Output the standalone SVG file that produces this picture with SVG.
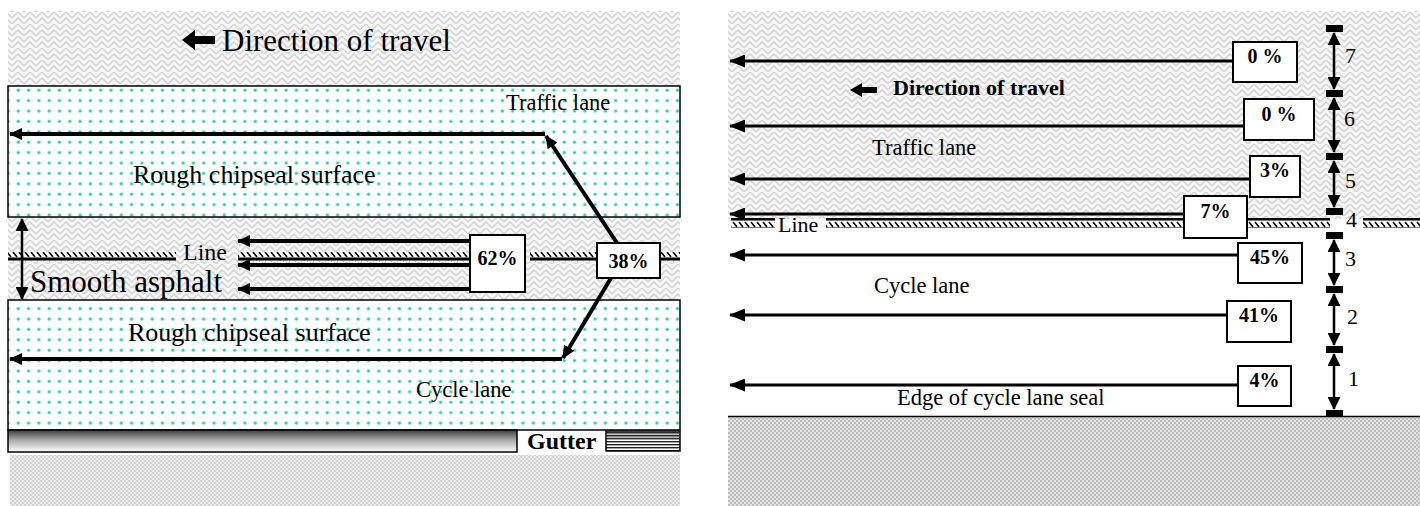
<svg xmlns="http://www.w3.org/2000/svg" width="1420" height="506" viewBox="0 0 1420 506">
<style>
.t{font-family:"Liberation Serif","Times New Roman",serif;fill:#000}
.b{font-weight:bold}
.box{fill:#fff;stroke:#000;stroke-width:2}
.lane{fill:url(#dots);stroke:#000;stroke-width:1.5}
.aL{stroke:#000;stroke-width:4;fill:none;marker-end:url(#ahL)}
.aR{stroke:#000;stroke-width:3;fill:none;marker-end:url(#ahR)}
.dv{stroke:#000;stroke-width:2.5;fill:none;marker-start:url(#ahV);marker-end:url(#ahV)}
.mk{fill:#000}
.strip{fill:url(#hatch)}
</style>
<defs>
<pattern id="herr" patternUnits="userSpaceOnUse" width="12" height="12">
<rect width="12" height="12" fill="#f7f7f7"/>
<path d="M0,6 L6,0 L12,6 M0,12 L6,6 L12,12" stroke="#d6d6d6" stroke-width="1.6" fill="none"/>
</pattern>
<pattern id="dots" patternUnits="userSpaceOnUse" width="10.3" height="10.4" x="3" y="2">
<rect width="10.3" height="10.4" fill="#fff"/>
<circle cx="5" cy="5" r="2" fill="#b0eedd"/>
<circle cx="5" cy="5" r="1.3" fill="#1fcf9f"/>
</pattern>
<pattern id="stipL" patternUnits="userSpaceOnUse" width="4" height="4">
<rect width="4" height="4" fill="#ececec"/>
<circle cx="1" cy="1" r="0.9" fill="#c6c6c6"/>
<circle cx="3" cy="3" r="0.9" fill="#c6c6c6"/>
</pattern>
<pattern id="stipR" patternUnits="userSpaceOnUse" width="4" height="4">
<rect width="4" height="4" fill="#e4e4e4"/>
<circle cx="1" cy="1" r="1" fill="#adadad"/>
<circle cx="3" cy="3" r="1" fill="#adadad"/>
</pattern>
<pattern id="hatch" patternUnits="userSpaceOnUse" width="6" height="10">
<rect width="6" height="10" fill="#fff"/>
<path d="M1,2 L5,7" stroke="#000" stroke-width="1.6"/>
<rect y="7.5" width="6" height="2.5" fill="#000"/>
<rect y="0" width="6" height="0.8" fill="#555"/>
</pattern>
<linearGradient id="gut" x1="0" y1="0" x2="0" y2="1">
<stop offset="0" stop-color="#3c3c3c"/>
<stop offset="0.45" stop-color="#a8a8a8"/>
<stop offset="1" stop-color="#ffffff"/>
</linearGradient>
<pattern id="gutl" patternUnits="userSpaceOnUse" width="4" height="3">
<rect width="4" height="3" fill="#fff"/>
<rect width="4" height="1.4" fill="#222"/>
</pattern>
<marker id="ahL" markerUnits="userSpaceOnUse" viewBox="0 0 13 12" refX="12" refY="6" markerWidth="13" markerHeight="12" orient="auto">
<path d="M0,0 L13,6 L0,12 z" fill="#000"/>
</marker>
<marker id="ahR" markerUnits="userSpaceOnUse" viewBox="0 0 16 13" refX="15" refY="6.5" markerWidth="16" markerHeight="13" orient="auto">
<path d="M0,0 L16,6.5 L0,13 z" fill="#000"/>
</marker>
<marker id="ahV" markerUnits="userSpaceOnUse" viewBox="0 0 13 13" refX="12" refY="6.5" markerWidth="13" markerHeight="13" orient="auto-start-reverse">
<path d="M0,0 L13,6.5 L0,13 z" fill="#000"/>
</marker>
</defs>

<!-- LEFT PANEL backgrounds -->
<g id="left-road">
<rect x="8" y="11" width="672" height="290" fill="url(#herr)"/>
<rect x="10" y="455" width="670" height="51" fill="url(#stipL)"/>
</g>
<g id="left-traffic-lane">
<rect class="lane" x="8" y="86" width="672" height="131"/>
<text class="t" x="506" y="110" font-size="22.5">Traffic lane</text>
<text class="t" x="133" y="183" font-size="26">Rough chipseal surface</text>
</g>
<g id="left-cycle-lane">
<rect class="lane" x="8" y="300" width="672" height="130"/>
<text class="t" x="128" y="341" font-size="26">Rough chipseal surface</text>
<text class="t" x="416" y="397" font-size="22.5">Cycle lane</text>
</g>
<g id="left-line">
<rect class="strip" x="8" y="252" width="168" height="10"/>
<rect class="strip" x="238" y="252" width="234" height="10"/>
<rect class="strip" x="530" y="252" width="68" height="10"/>
<rect class="strip" x="660" y="252" width="20" height="10"/>
<text class="t" x="183" y="260" font-size="24">Line</text>
</g>
<g id="left-smooth">
<text class="t" x="30" y="292" font-size="31">Smooth asphalt</text>
</g>
<g id="left-gutter">
<rect x="8" y="430" width="509" height="22" fill="url(#gut)" stroke="#000" stroke-width="1.5"/>
<text class="t b" x="527" y="449" font-size="24">Gutter</text>
<rect x="606" y="431" width="74" height="20" fill="url(#gutl)" stroke="#000" stroke-width="1.5"/>
<rect x="606" y="431" width="74" height="8" fill="#444" opacity="0.35"/>
</g>
<g id="left-title">
<path d="M182,40 L195,30 L195,36 L215,36 L215,44 L195,44 L195,50 z" fill="#000"/>
<text class="t" x="222" y="51" font-size="31">Direction of travel</text>
</g>

<!-- LEFT connectors -->
<g id="left-connectors">
<line class="aL" x1="617" y1="243" x2="546" y2="136"/>
<line class="aL" x1="545" y1="134" x2="10" y2="134"/>
<line class="aL" x1="611" y1="278" x2="563" y2="358"/>
<line class="aL" x1="562" y1="359" x2="10" y2="359"/>
<line class="aL" x1="470" y1="241" x2="238" y2="241"/>
<line class="aL" x1="470" y1="265" x2="238" y2="265"/>
<line class="aL" x1="470" y1="289" x2="238" y2="289"/>
<line class="dv" x1="22" y1="219" x2="22" y2="299" stroke-width="3"/>
</g>
<g id="box-62">
<rect class="box" x="470" y="235" width="55" height="57"/>
<text class="t b" x="497.5" y="265" font-size="20" text-anchor="middle">62%</text>
</g>
<g id="box-38">
<rect class="box" x="597" y="243" width="63" height="35"/>
<text class="t b" x="628.5" y="268" font-size="20" text-anchor="middle">38%</text>
</g>

<!-- RIGHT PANEL -->
<g id="right-road">
<rect x="728" y="11" width="692" height="208" fill="url(#herr)"/>
<rect x="728" y="228" width="692" height="188" fill="#fff"/>
<rect x="728" y="417" width="692" height="89" fill="url(#stipR)"/>
<line x1="728" y1="416.5" x2="1420" y2="416.5" stroke="#000" stroke-width="1.5"/>
</g>
<g id="right-line">
<rect class="strip" x="731" y="218" width="44" height="10"/>
<rect class="strip" x="826" y="218" width="504" height="10"/>
<rect class="strip" x="1363" y="218" width="57" height="10"/>
<text class="t" x="778" y="232" font-size="22">Line</text>
</g>
<g id="right-labels">
<path d="M850,90 L862,83 L862,87 L877,87 L877,93 L862,93 L862,97 z" fill="#000"/>
<text class="t b" x="893" y="95" font-size="22">Direction of travel</text>
<text class="t" x="872" y="155" font-size="22.5">Traffic lane</text>
<text class="t" x="874" y="293" font-size="22.5">Cycle lane</text>
<text class="t" x="897" y="405" font-size="22.5">Edge of cycle lane seal</text>
</g>
<g id="right-connectors">
<line class="aR" x1="1233" y1="61" x2="730" y2="61"/>
<line class="aR" x1="1244" y1="126" x2="730" y2="126"/>
<line class="aR" x1="1250" y1="179" x2="730" y2="179"/>
<line class="aR" x1="1184" y1="214" x2="730" y2="214"/>
<line class="aR" x1="1238" y1="255" x2="730" y2="255"/>
<line class="aR" x1="1227" y1="315" x2="730" y2="315"/>
<line class="aR" x1="1238" y1="385" x2="730" y2="385"/>
</g>
<g id="box-r7">
<rect class="box" x="1233" y="42" width="64" height="40"/>
<text class="t b" x="1265" y="63" font-size="20" text-anchor="middle">0 %</text>
</g>
<g id="box-r6">
<rect class="box" x="1244" y="99" width="70" height="41"/>
<text class="t b" x="1279" y="121" font-size="20" text-anchor="middle">0 %</text>
</g>
<g id="box-r5">
<rect class="box" x="1250" y="156" width="50" height="41"/>
<text class="t b" x="1275" y="177" font-size="20" text-anchor="middle">3%</text>
</g>
<g id="box-r4">
<rect class="box" x="1184" y="196" width="63" height="42"/>
<text class="t b" x="1215.5" y="218" font-size="20" text-anchor="middle">7%</text>
</g>
<g id="box-r3">
<rect class="box" x="1238" y="243" width="64" height="40"/>
<text class="t b" x="1270" y="264" font-size="20" text-anchor="middle">45%</text>
</g>
<g id="box-r2">
<rect class="box" x="1227" y="301" width="64" height="41"/>
<text class="t b" x="1259" y="322" font-size="20" text-anchor="middle">41%</text>
</g>
<g id="box-r1">
<rect class="box" x="1238" y="366" width="53" height="40"/>
<text class="t b" x="1264.5" y="387" font-size="20" text-anchor="middle">4%</text>
</g>
<g id="scale">
<rect class="mk" x="1326" y="25" width="17" height="7"/>
<rect class="mk" x="1326" y="90" width="17" height="7"/>
<rect class="mk" x="1326" y="153" width="17" height="7"/>
<rect class="mk" x="1326" y="208" width="17" height="7"/>
<rect class="mk" x="1326" y="232" width="17" height="7"/>
<rect class="mk" x="1326" y="286" width="17" height="7"/>
<rect class="mk" x="1326" y="346" width="17" height="7"/>
<rect class="mk" x="1326" y="410" width="17" height="7"/>
<line class="dv" x1="1334" y1="33" x2="1334" y2="89"/>
<line class="dv" x1="1334" y1="98" x2="1334" y2="152"/>
<line class="dv" x1="1334" y1="161" x2="1334" y2="207"/>
<line class="dv" x1="1334" y1="240" x2="1334" y2="285"/>
<line class="dv" x1="1334" y1="294" x2="1334" y2="345"/>
<line class="dv" x1="1334" y1="354" x2="1334" y2="409"/>
<text class="t" x="1345" y="63" font-size="22">7</text>
<text class="t" x="1344" y="126" font-size="22">6</text>
<text class="t" x="1345" y="188" font-size="22">5</text>
<text class="t" x="1346" y="227" font-size="22">4</text>
<text class="t" x="1345" y="266" font-size="22">3</text>
<text class="t" x="1347" y="324" font-size="22">2</text>
<text class="t" x="1348" y="386" font-size="22">1</text>
</g>
</svg>
